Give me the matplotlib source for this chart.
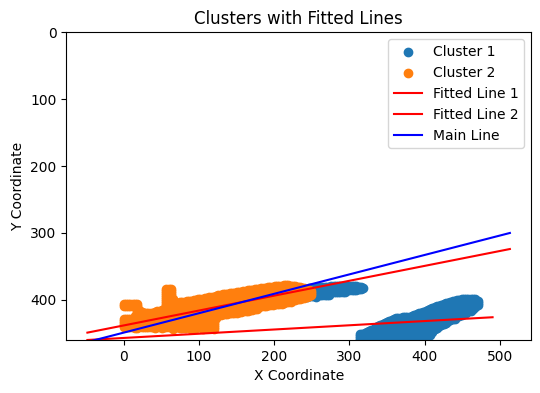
import matplotlib
matplotlib.use("Agg")
import matplotlib.pyplot as plt
import numpy as np

# cluster outlines: x stations with top / bottom of the point band
c1_band_x = [240, 255, 275, 295, 310, 316, 319]
c1_band_top = [384, 381, 380, 380, 380, 381, 382]
c1_band_bot = [398, 396, 392, 389, 386, 384, 383]

c1_blob_x = [314, 320, 328, 340, 360, 380, 400, 420, 440, 455, 467, 470]
c1_blob_top = [451, 450, 446, 438, 428, 425, 417, 408, 401, 398, 398, 402]
c1_blob_bot = [475, 475, 475, 475, 475, 475, 460, 440, 428, 420, 412, 408]

c2_stub_x = [0, 20]
c2_stub_top = [406, 406]
c2_stub_bot = [410, 410]

c2_x = [0, 14, 18, 25, 35, 50, 54, 57, 64, 67, 80, 100, 120, 123, 135, 150, 175, 200, 215, 230, 245, 250]
c2_top = [428, 428, 412, 420, 420, 416, 414, 384, 384, 405, 403, 399, 395, 394, 391, 389, 384, 380, 378, 380, 384, 388]
c2_bot = [441, 442, 442, 442, 442, 443, 443, 443, 443, 443, 443, 443, 443, 427, 422, 419, 414, 409, 405, 401, 397, 393]

# fitted lines (end points)
line1_x = [-48, 513]
line1_y = [449, 324]
line2_x = [-48, 490]
line2_y = [460, 426]
main_x = [-48, 513]
main_y = [463, 300]


def fill_band(xs, tops, bots, step=3):
    # points covering the band between the read top and bottom edges
    px, py = [], []
    for x in np.arange(xs[0], xs[-1] + 0.1, step):
        t = np.interp(x, xs, tops)
        b = np.interp(x, xs, bots)
        for y in np.arange(t, b + 0.1, step):
            px.append(x)
            py.append(y)
    return px, py


bx1, by1 = fill_band(c1_band_x, c1_band_top, c1_band_bot)
bx2, by2 = fill_band(c1_blob_x, c1_blob_top, c1_blob_bot)
c1x = bx1 + bx2
c1y = by1 + by2
sx, sy = fill_band(c2_stub_x, c2_stub_top, c2_stub_bot)
ox, oy = fill_band(c2_x, c2_top, c2_bot)
c2x = sx + ox
c2y = sy + oy

fig = plt.figure(figsize=(5.4, 3.93), dpi=100)
ax = fig.add_axes([0.1228, 0.1349, 0.8605, 0.7829])

ax.scatter(c1x, c1y, color='C0', label='Cluster 1')
ax.scatter(c2x, c2y, color='C1', label='Cluster 2')
ax.plot(line1_x, line1_y, color='red', label='Fitted Line 1')
ax.plot(line2_x, line2_y, color='red', label='Fitted Line 2')
ax.plot(main_x, main_y, color='blue', label='Main Line')

ax.set_xlim(-76, 541)
ax.set_ylim(460, 0)
ax.set_title('Clusters with Fitted Lines')
ax.set_xlabel('X Coordinate')
ax.set_ylabel('Y Coordinate')
ax.legend(loc='upper right')

fig.savefig('out.png', dpi=100)
